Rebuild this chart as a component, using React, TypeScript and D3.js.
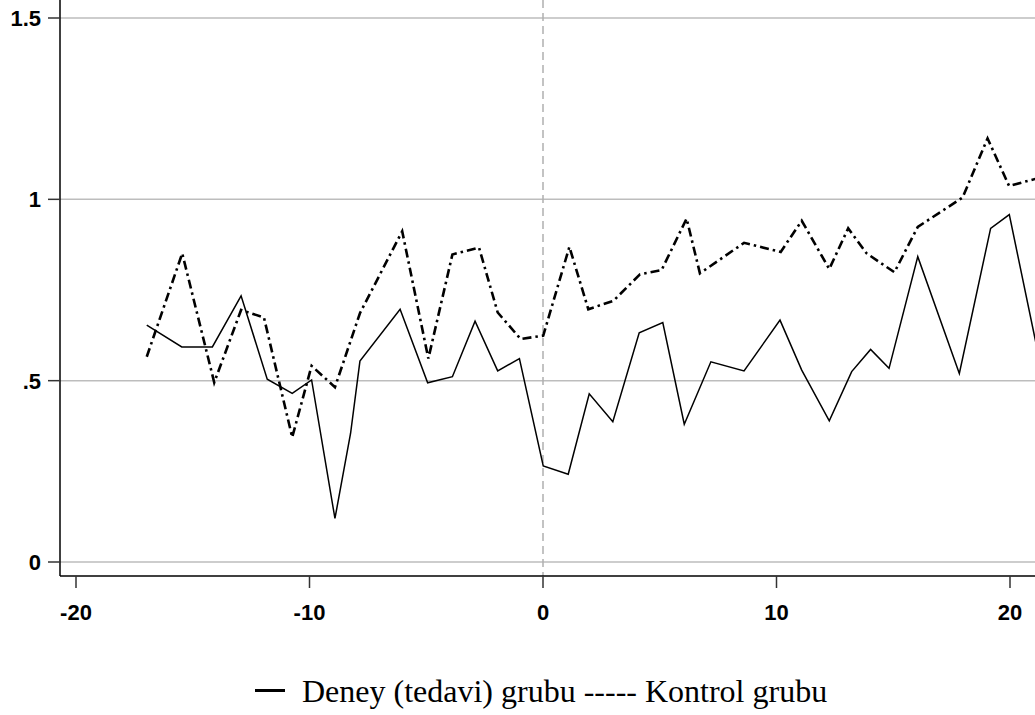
import React from "react";
import * as d3 from "d3";

// Deney (tedavi) grubu — solid line
const deneyX = [-16.97, -15.47, -14.16, -12.93, -11.81, -10.74, -9.91, -8.91, -8.24, -7.84, -6.12, -4.94, -3.88, -2.91, -1.94, -1.01, 0.01, 1.08, 1.98, 2.99, 4.12, 5.13, 6.05, 7.19, 8.61, 10.15, 11.08, 12.26, 13.22, 14.03, 14.82, 16.05, 17.83, 19.17, 19.97, 21.3];
const deneyY = [0.653, 0.593, 0.593, 0.734, 0.504, 0.465, 0.502, 0.12, 0.355, 0.554, 0.697, 0.494, 0.511, 0.664, 0.527, 0.561, 0.265, 0.242, 0.464, 0.387, 0.632, 0.66, 0.38, 0.552, 0.527, 0.667, 0.529, 0.389, 0.525, 0.586, 0.534, 0.842, 0.52, 0.92, 0.958, 0.545];

// Kontrol grubu — dash-dot line
const kontrolX = [-16.97, -15.45, -14.08, -12.93, -11.95, -10.74, -9.91, -8.91, -7.84, -6.03, -4.91, -3.88, -2.74, -1.94, -0.96, 0.01, 1.13, 1.94, 3.01, 4.15, 5.08, 6.15, 6.72, 8.61, 10.18, 11.08, 12.26, 13.07, 13.86, 15.05, 16.05, 17.97, 19.04, 19.96, 21.3];
const kontrolY = [0.566, 0.851, 0.495, 0.695, 0.674, 0.344, 0.541, 0.482, 0.686, 0.912, 0.561, 0.848, 0.867, 0.688, 0.615, 0.624, 0.869, 0.697, 0.72, 0.793, 0.805, 0.947, 0.796, 0.88, 0.855, 0.941, 0.808, 0.92, 0.851, 0.799, 0.924, 1.005, 1.168, 1.037, 1.06];

const xTicks = [-20, -10, 0, 10, 20];
const yTicks = [0, 0.5, 1, 1.5];
const yTickLabels = ["0", ".5", "1", "1.5"];
const legendLabel = "Deney (tedavi) grubu ----- Kontrol grubu";

const W = 1035;
const H = 715;

export default function App() {
  const x = d3.scaleLinear().domain([-20, 20]).range([76, 1010]);
  const y = d3.scaleLinear().domain([0, 1.5]).range([562, 18]);
  const left = 60;
  const right = W;
  const bottom = 576;
  const top = 0;

  const line = d3
    .line<[number, number]>()
    .x((d) => x(d[0]))
    .y((d) => y(d[1]));

  const deney = deneyX.map((v, i) => [v, deneyY[i]] as [number, number]);
  const kontrol = kontrolX.map((v, i) => [v, kontrolY[i]] as [number, number]);

  const axisFont = "'Liberation Sans', Arial, Helvetica, sans-serif";

  return (
    <svg
      width={W}
      height={H}
      style={{ position: "fixed", left: 0, top: 0, background: "#fff" }}
    >
      <defs>
        <clipPath id="plotclip">
          <rect x={left} y={top} width={right - left} height={bottom - top} />
        </clipPath>
      </defs>
      <rect x={0} y={0} width={W} height={H} fill="#fff" />
      {/* grid */}
      {yTicks.map((t) => (
        <line
          key={"g" + t}
          x1={left}
          x2={right}
          y1={y(t)}
          y2={y(t)}
          stroke="#bdbdbd"
          strokeWidth={1.5}
        />
      ))}
      {/* vertical reference line at 0 */}
      <line
        x1={x(0)}
        x2={x(0)}
        y1={top}
        y2={bottom}
        stroke="#b0b0b0"
        strokeWidth={1.5}
        strokeDasharray="8,5"
      />
      {/* series */}
      <g clipPath="url(#plotclip)">
        <path d={line(deney) || ""} fill="none" stroke="#000" strokeWidth={1.5} strokeLinejoin="miter" />
        <path
          d={line(kontrol) || ""}
          fill="none"
          stroke="#000"
          strokeWidth={2.6}
          strokeDasharray="9,4,2.5,4"
        />
      </g>
      {/* axes */}
      <line x1={left} x2={left} y1={top} y2={bottom} stroke="#000" strokeWidth={1.5} />
      <line x1={left} x2={right} y1={bottom} y2={bottom} stroke="#000" strokeWidth={1.5} />
      {yTicks.map((t, i) => (
        <g key={"y" + t}>
          <line x1={left - 12} x2={left} y1={y(t)} y2={y(t)} stroke="#333" strokeWidth={1.5} />
          <text
            x={41}
            y={y(t) + 8}
            textAnchor="end"
            fontFamily={axisFont}
            fontWeight="bold"
            fontSize={22}
            fill="#000"
          >
            {yTickLabels[i]}
          </text>
        </g>
      ))}
      {xTicks.map((t) => (
        <g key={"x" + t}>
          <line x1={x(t)} x2={x(t)} y1={bottom} y2={bottom + 12} stroke="#333" strokeWidth={1.5} />
          <text
            x={x(t)}
            y={620}
            textAnchor="middle"
            fontFamily={axisFont}
            fontWeight="bold"
            fontSize={22}
            fill="#000"
          >
            {t}
          </text>
        </g>
      ))}
      {/* legend */}
      <line x1={255} x2={285} y1={690.5} y2={690.5} stroke="#000" strokeWidth={3} />
      <text
        x={302}
        y={702}
        fontFamily="'Liberation Serif', 'Times New Roman', serif"
        fontSize={32}
        fill="#000"
      >
        {legendLabel}
      </text>
    </svg>
  );
}
